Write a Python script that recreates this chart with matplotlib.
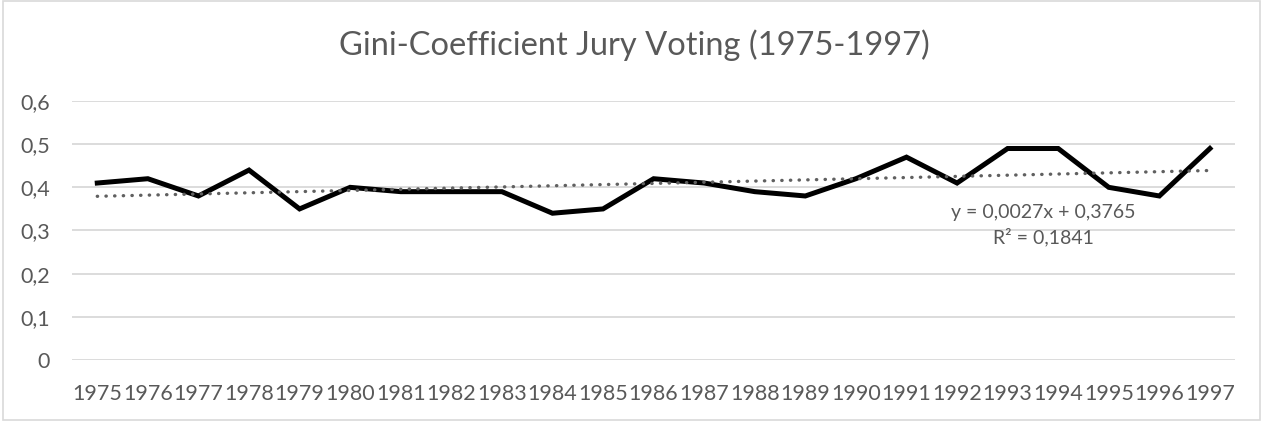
import numpy as np
import matplotlib
matplotlib.use('Agg')
from matplotlib import pyplot as plt
from matplotlib.patches import Rectangle

plt.rcParams['font.family'] = ['Lato', 'DejaVu Sans']

years = [str(y) for y in range(1975, 1998)]
gini = [0.41, 0.42, 0.38, 0.44, 0.35, 0.40, 0.39, 0.39, 0.39, 0.34, 0.35, 0.42,
        0.41, 0.39, 0.38, 0.42, 0.47, 0.41, 0.49, 0.49, 0.40, 0.38, 0.49]
y_ticks = [0, 0.1, 0.2, 0.3, 0.4, 0.5, 0.6]
y_labels = ['0', '0,1', '0,2', '0,3', '0,4', '0,5', '0,6']
trend_label = 'y = 0,0027x + 0,3765\nR² = 0,1841'

grey = '#595959'

fig = plt.figure(figsize=(12.63, 4.21), dpi=100)
ax = fig.add_axes([0.057, 0.145, 0.921, 0.615])

x = np.arange(len(years))
ax.plot(x, gini, color='black', lw=3.6, solid_joinstyle='miter', zorder=3)

# lineare Trendlinie (Excel: x = 1..n)
k, d = np.polyfit(x + 1, gini, 1)
ax.plot(x, k * (x + 1) + d, color='#606060', lw=2.4, linestyle=(0, (0.1, 2.5)),
        dash_capstyle='round', zorder=4)

ax.text(18.7, 0.312, trend_label, ha='center', va='center', fontsize=14,
        color=grey, linespacing=1.4)

ax.set_xlim(-0.5, len(years) - 0.5)
ax.set_ylim(0, 0.6)
ax.set_xticks(x)
ax.set_xticklabels(years)
ax.set_yticks(y_ticks)
ax.set_yticklabels(y_labels)
ax.tick_params(length=0, labelsize=15.5, labelcolor=grey)
ax.tick_params(axis='x', pad=17)
ax.tick_params(axis='y', pad=16)
ax.grid(axis='y', color='#d9d9d9', lw=1.3)
ax.set_axisbelow(True)
for s in ax.spines.values():
    s.set_visible(False)

fig.text(0.502, 0.892, 'Gini-Coefficient Jury Voting (1975-1997)',
         ha='center', va='center', fontsize=23.5, color=grey)

fig.patches.append(Rectangle((0.002, 0.002), 0.996, 0.996, transform=fig.transFigure,
                             fill=False, edgecolor='#d9d9d9', lw=1.2))

plt.savefig('out.png', dpi=100)
